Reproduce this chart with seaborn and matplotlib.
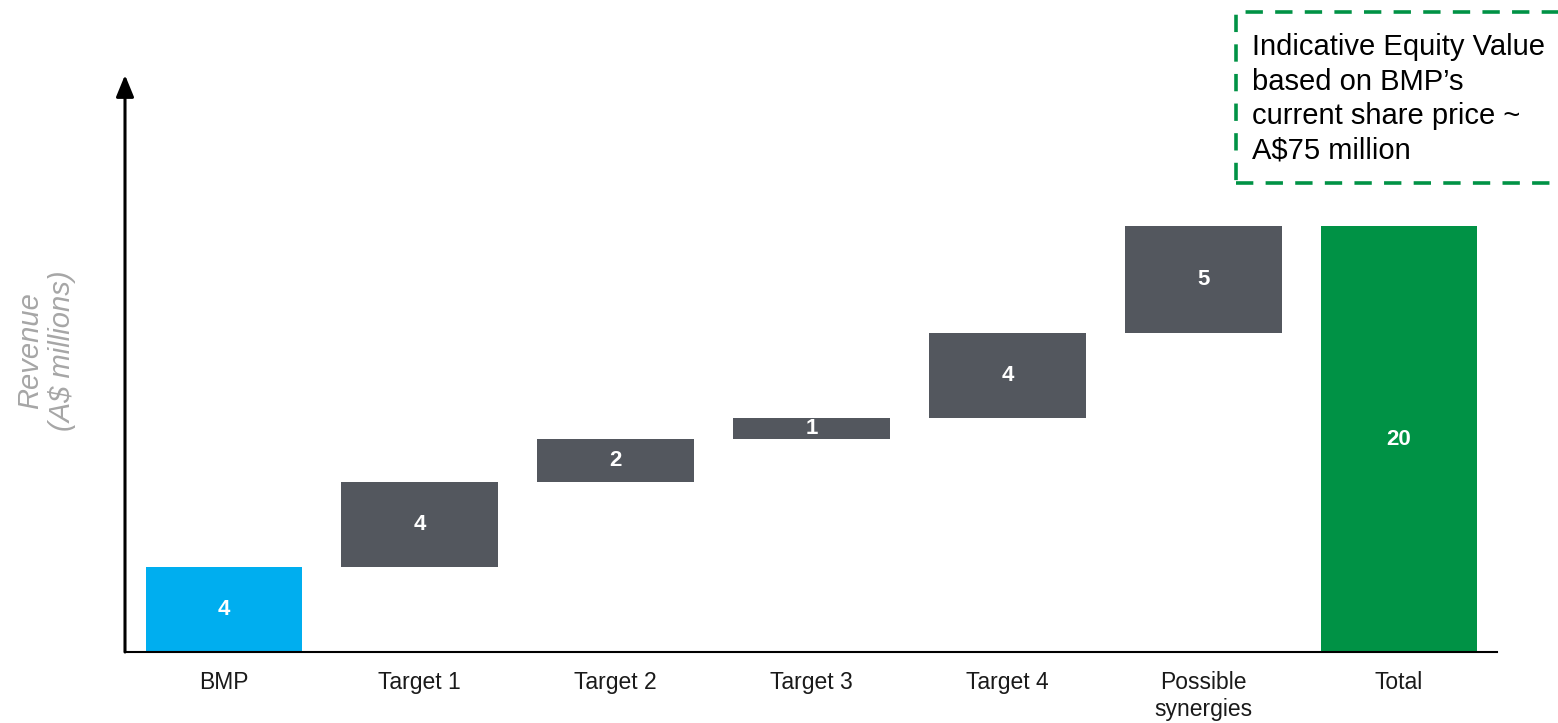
import matplotlib
matplotlib.use("Agg")
import matplotlib.pyplot as plt
from matplotlib.patches import Rectangle
import seaborn as sns
import pandas as pd

categories = ["BMP", "Target 1", "Target 2", "Target 3", "Target 4", "Possible\nsynergies", "Total"]
values = [4, 4, 2, 1, 4, 5, 20]
is_total = [False, False, False, False, False, False, True]
colors = {"BMP": "#00AEEF", "Target 1": "#53575E", "Target 2": "#53575E", "Target 3": "#53575E",
          "Target 4": "#53575E", "Possible\nsynergies": "#53575E", "Total": "#009245"}
note_text = "Indicative Equity Value\nbased on BMP\u2019s\ncurrent share price ~\nA$75 million"
ylabel = "Revenue\n(A$ millions)"

# waterfall bottoms
bottoms = []
running = 0
for v, t in zip(values, is_total):
    if t:
        bottoms.append(0)
    else:
        bottoms.append(running)
        running += v

df = pd.DataFrame({"category": categories, "value": values, "bottom": bottoms})

sns.set_theme(style="white")
plt.rcParams["font.family"] = ["Liberation Sans", "DejaVu Sans"]

W, H = 1558, 723
fig = plt.figure(figsize=(W / 100, H / 100), dpi=100)
left, right, bottom_px, top_px = 125, 1497, 652, 75
ax = fig.add_axes([left / W, 1 - bottom_px / H, (right - left) / W, (bottom_px - top_px) / H])

for i, cat in enumerate(categories):
    sub = df.iloc[[i]]
    sns.barplot(data=sub, x="category", y="value", order=categories,
                color=colors[cat], bottom=float(bottoms[i]), width=0.8, ax=ax,
                saturation=1, linewidth=0, errorbar=None)

px_per_unit = 21.3
ax.set_ylim(0, (bottom_px - top_px) / px_per_unit)
ax.set_xlim(-0.505, 6.5)

for i, (v, b) in enumerate(zip(values, bottoms)):
    ax.text(i, b + v / 2, str(v), ha="center", va="center", color="white",
            fontsize=16, fontweight="bold")

ax.set_yticks([])
ax.set_xlabel("")
ax.set_ylabel("")
ax.tick_params(axis="x", length=0, pad=14, labelsize=16.5, colors="#1a1a1a")
for s in ["top", "right", "left"]:
    ax.spines[s].set_visible(False)
ax.spines["bottom"].set_color("black")
ax.spines["bottom"].set_linewidth(1.5)

# vertical arrow axis
ax.annotate("", xy=(0, 1.0), xycoords="axes fraction", xytext=(0, 0),
            textcoords="axes fraction",
            arrowprops=dict(arrowstyle="-|>,head_length=1.1,head_width=0.45",
                            color="black", lw=2.2, shrinkA=0, shrinkB=0))

fig.text(46 / W, 1 - 351 / H, ylabel, rotation=90, ha="center", va="center",
         fontsize=21, style="italic", color="#A6A6A6", linespacing=1.2)

# dashed note box
box = Rectangle((1236 / W, 1 - 183 / H), (1620 - 1236) / W, (183 - 12) / H,
                transform=fig.transFigure, fill=False, edgecolor="#009245",
                linewidth=2.6, linestyle=(0, (4.8, 3.4)), clip_on=False)
fig.add_artist(box)
fig.text(1252 / W, 1 - 99 / H, note_text, ha="left", va="center", fontsize=21,
         color="black", linespacing=1.3)

fig.savefig("out.png", dpi=100)
